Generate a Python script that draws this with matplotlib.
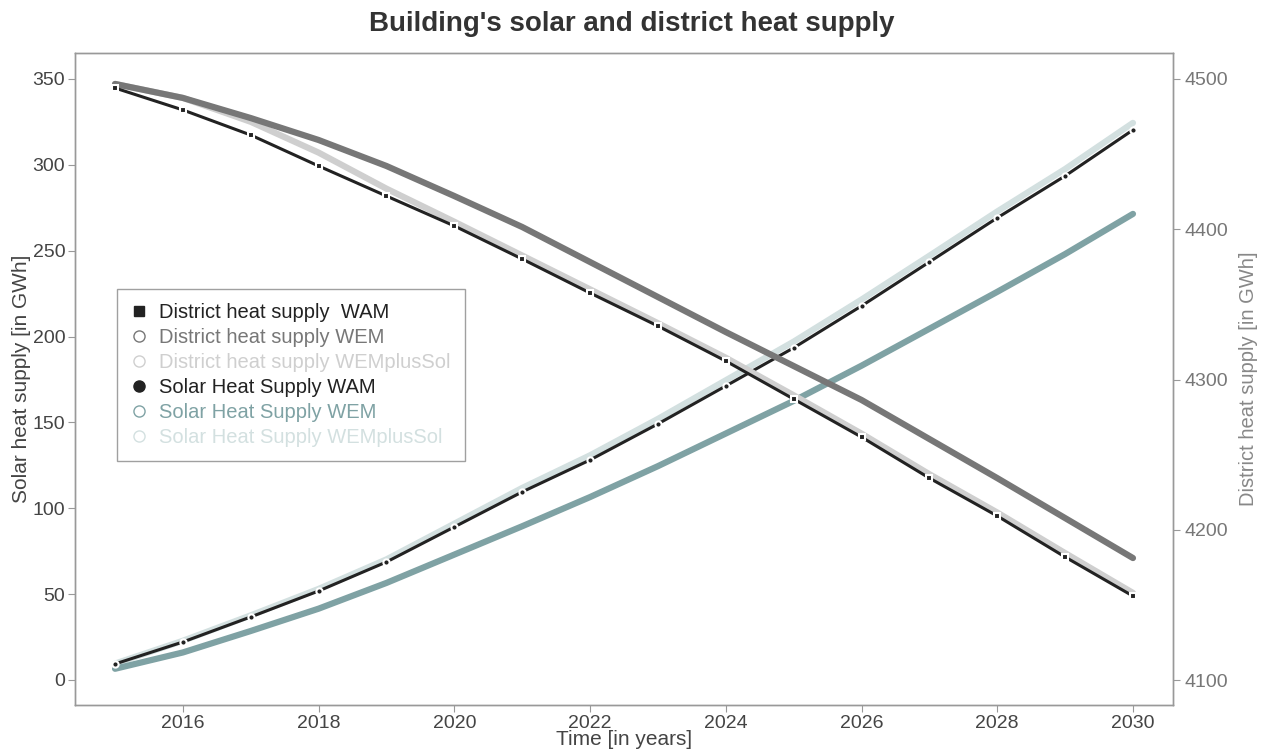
import matplotlib
matplotlib.use("Agg")
import matplotlib.pyplot as plt
from matplotlib.lines import Line2D

plt.rcParams['font.family'] = ['Liberation Sans', 'DejaVu Sans']

years = list(range(2015, 2031))

district_wam = [4494.0, 4479.4, 4462.7, 4442.1, 4422.1, 4402.2, 4380.2, 4357.6,
                4335.6, 4312.3, 4287.0, 4261.7, 4234.4, 4209.2, 4181.9, 4155.9]
district_wem = [4496.7, 4487.4, 4474.0, 4459.4, 4442.1, 4422.1, 4401.5, 4378.2,
                4354.9, 4331.6, 4309.0, 4286.4, 4260.4, 4234.4, 4207.8, 4181.2]
district_wemplussol = [4496.7, 4487.4, 4471.5, 4451.0, 4427.0, 4405.0, 4382.5, 4360.0,
                       4337.5, 4314.5, 4289.5, 4264.0, 4237.0, 4211.5, 4184.5, 4158.0]

solar_wam = [9.3, 22.1, 36.7, 51.8, 68.7, 89.1, 109.5, 128.1,
             149.1, 171.2, 193.4, 217.8, 243.4, 269.1, 293.5, 320.3]
solar_wem = [6.5, 16.0, 28.5, 41.5, 56.5, 73.0, 89.5, 106.5,
             124.5, 143.5, 162.5, 183.0, 204.5, 226.0, 248.0, 271.4]
solar_wemplussol = [9.5, 22.8, 37.6, 53.0, 70.2, 91.0, 111.8, 130.8,
                    152.0, 174.5, 197.0, 221.5, 247.0, 272.8, 297.5, 324.4]

labels = ["District heat supply  WAM", "District heat supply WEM",
          "District heat supply WEMplusSol", "Solar Heat Supply WAM",
          "Solar Heat Supply WEM", "Solar Heat Supply WEMplusSol"]

c_black = "#222222"
c_dwem = "#777777"
c_dsol = "#cfcfcf"
c_swem = "#7fa2a4"
c_ssol = "#d3e0e0"

fig = plt.figure(figsize=(12.63, 7.51), dpi=100)
ax1 = fig.add_axes([75/1263, 46/751, (1173-75)/1263, (705-53)/751])
ax2 = ax1.twinx()

# Solar (left axis)
ax1.plot(years, solar_wemplussol, color=c_ssol, lw=4.5, solid_capstyle='round', zorder=2)
ax1.plot(years, solar_wem, color=c_swem, lw=4.5, solid_capstyle='round', zorder=3)
ax1.plot(years, solar_wam, color=c_black, lw=2.2, marker='o', ms=4.5,
         mfc=c_black, mec='white', mew=1.5, zorder=4)

# District (right axis)
ax2.plot(years, district_wemplussol, color=c_dsol, lw=4.5, solid_capstyle='round', zorder=2)
ax2.plot(years, district_wem, color=c_dwem, lw=4.5, solid_capstyle='round', zorder=3)
ax2.plot(years, district_wam, color=c_black, lw=2.2, marker='s', ms=4.5,
         mfc=c_black, mec='white', mew=1.5, zorder=4)

ax1.set_xlim(2014.41, 2030.59)
ax1.set_ylim(-14.6, 365.1)
ax2.set_ylim(4083.4, 4517.3)
ax1.set_xticks(range(2016, 2031, 2))
ax1.set_yticks(range(0, 351, 50))
ax2.set_yticks(range(4100, 4501, 100))

spine_c = "#999999"
for ax in (ax1, ax2):
    for s in ax.spines.values():
        s.set_color(spine_c)
        s.set_linewidth(1.0)

ax1.tick_params(axis='x', direction='out', length=5, color=spine_c, labelsize=14,
                labelcolor="#444444", pad=2)
ax1.tick_params(axis='y', direction='out', length=5, color=spine_c, labelsize=14,
                labelcolor="#444444", pad=2)
ax2.tick_params(axis='y', direction='out', length=5, color=spine_c, labelsize=14,
                labelcolor="#777777", pad=3)

ax1.set_xlabel("Time [in years]", fontsize=15, color="#444444", labelpad=-1)
ax1.set_ylabel("Solar heat supply [in GWh]", fontsize=15, color="#444444", labelpad=1)
ax2.set_ylabel("District heat supply [in GWh]", fontsize=14.5, color="#888888", labelpad=8)

fig.suptitle("Building's solar and district heat supply", fontsize=20, fontweight='bold',
             color="#333333", y=0.985)

handles = [
    Line2D([], [], ls='none', marker='s', ms=7.5, mfc=c_black, mec=c_black),
    Line2D([], [], ls='none', marker='o', ms=8, mfc='white', mec=c_dwem),
    Line2D([], [], ls='none', marker='o', ms=8, mfc='white', mec=c_dsol),
    Line2D([], [], ls='none', marker='o', ms=8, mfc=c_black, mec=c_black),
    Line2D([], [], ls='none', marker='o', ms=8, mfc='white', mec=c_swem),
    Line2D([], [], ls='none', marker='o', ms=8, mfc='white', mec=c_ssol),
]
text_colors = [c_black, c_dwem, c_dsol, c_black, c_swem, c_ssol]
leg = ax2.legend(handles, labels, loc='upper left', bbox_to_anchor=((117-75)/1098, (705-289)/652),
                 fontsize=14.5, frameon=True, fancybox=False, edgecolor="#888888",
                 handlelength=0.8, handletextpad=0.6, labelspacing=0.3, borderpad=0.7,
                 borderaxespad=0)
leg.get_frame().set_linewidth(1.0)
for t, c in zip(leg.get_texts(), text_colors):
    t.set_color(c)

fig.savefig("out.png", dpi=100)
